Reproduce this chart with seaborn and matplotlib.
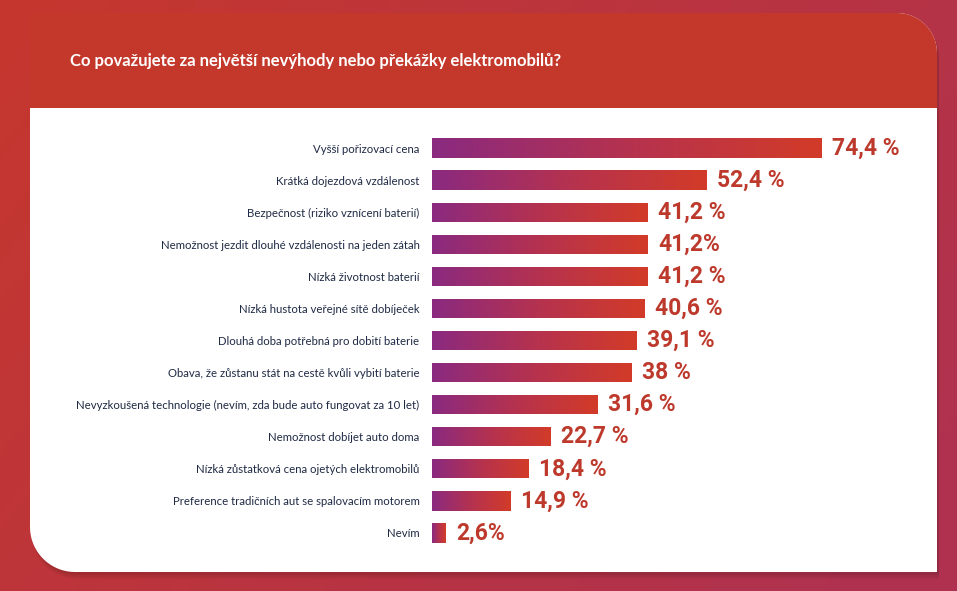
import numpy as np
import pandas as pd
import matplotlib
matplotlib.use("Agg")
import matplotlib.pyplot as plt
import seaborn as sns
from matplotlib.path import Path
from matplotlib.patches import PathPatch, Rectangle
from matplotlib.colors import LinearSegmentedColormap

# --- data ---
title = "Co považujete za největší nevýhody nebo překážky elektromobilů?"
categories = [
    "Vyšší pořizovací cena",
    "Krátká dojezdová vzdálenost",
    "Bezpečnost (riziko vznícení baterií)",
    "Nemožnost jezdit dlouhé vzdálenosti na jeden zátah",
    "Nízká životnost baterií",
    "Nízká hustota veřejné sítě dobíječek",
    "Dlouhá doba potřebná pro dobití baterie",
    "Obava, že zůstanu stát na cestě kvůli vybití baterie",
    "Nevyzkoušená technologie (nevím, zda bude auto fungovat za 10 let)",
    "Nemožnost dobíjet auto doma",
    "Nízká zůstatková cena ojetých elektromobilů",
    "Preference tradičních aut se spalovacím motorem",
    "Nevím",
]
values = [74.4, 52.4, 41.2, 41.2, 41.2, 40.6, 39.1, 38, 31.6, 22.7, 18.4, 14.9, 2.6]
value_labels = ["74,4 %", "52,4 %", "41,2 %", "41,2%", "41,2 %", "40,6 %", "39,1 %",
                "38 %", "31,6 %", "22,7 %", "18,4 %", "14,9 %", "2,6%"]

df = pd.DataFrame({"kategorie": categories, "procento": values})

W, H = 957, 591
FONT = ["Lato", "DejaVu Sans"]
NUM_FONT = ["Roboto", "DejaVu Sans"]
NAVY = "#1f2a44"
RED_TXT = "#bd392c"
HEADER = "#c4382b"

sns.set_theme(style="white")
plt.rcParams["font.family"] = FONT

fig = plt.figure(figsize=(W / 100, H / 100), dpi=100)

# --- pozadí + karta (v pixelech) ---
bg = fig.add_axes([0, 0, 1, 1], zorder=-10)
bg.set_xlim(0, W)
bg.set_ylim(H, 0)
bg.axis("off")

xx, yy = np.meshgrid(np.linspace(0, 1, 200), np.linspace(0, 1, 120))
t = np.clip(0.75 * xx + 0.35 * yy, 0, 1)[..., None]
c1 = np.array([0.776, 0.216, 0.180])
c2 = np.array([0.690, 0.196, 0.310])
bg.imshow(c1 * (1 - t) + c2 * t, extent=[0, W, H, 0], aspect="auto", zorder=0)


def card_path(x0, y0, x1, y1, r_tr, r_bl):
    pts = [(x0, y0)]
    a = np.linspace(-np.pi / 2, 0, 20)
    pts += list(zip(x1 - r_tr + r_tr * np.cos(a), y0 + r_tr + r_tr * np.sin(a)))
    pts.append((x1, y1))
    a = np.linspace(np.pi / 2, np.pi, 20)
    pts += list(zip(x0 + r_bl + r_bl * np.cos(a), y1 - r_bl + r_bl * np.sin(a)))
    pts.append((x0, y0))
    return Path(pts, closed=True)


# stín
for i, al in enumerate([0.06, 0.05, 0.04]):
    sh = PathPatch(card_path(30 + 2, 13 + 3 + i * 2, 937 + 2, 572 + 3 + i * 2, 40, 45),
                   facecolor="black", edgecolor="none", alpha=al, zorder=1)
    bg.add_patch(sh)

card = PathPatch(card_path(30, 13, 937, 572, 40, 45), facecolor="white",
                 edgecolor="none", zorder=2)
bg.add_patch(card)
header = Rectangle((30, 13), 907, 95, facecolor=HEADER, edgecolor="none", zorder=3)
bg.add_patch(header)
header.set_clip_path(card)

bg.text(70, 61, title, color="white", fontsize=12, fontweight="bold",
        ha="left", va="center", family=FONT, zorder=4)

# --- graf ---
ax = fig.add_axes([432 / W, 42 / H, 524 / W, 417 / H])
ax.patch.set_alpha(0)
sns.barplot(data=df, x="procento", y="kategorie", orient="h", width=0.6,
            color="#a8305a", ax=ax)

cmap = LinearSegmentedColormap.from_list("bar", ["#8a2a80", "#b5324f", "#d23b28"])
grad = np.linspace(0, 1, 256).reshape(1, -1)
for patch in ax.patches:
    x0, y0 = patch.get_x(), patch.get_y()
    w, h = patch.get_width(), patch.get_height()
    im = ax.imshow(grad, extent=[x0, x0 + w, y0 + h, y0], aspect="auto",
                   cmap=cmap, zorder=3)
    im.set_clip_path(patch)

for i, (v, lab) in enumerate(zip(values, value_labels)):
    ax.text(v + 2.0, i, lab, color=RED_TXT, fontsize=16.5, fontweight="bold",
            ha="left", va="center", family=NUM_FONT)

ax.set_xlim(0, 100)
ax.set_ylim(len(values) - 0.5, -0.5)
ax.set_xlabel("")
ax.set_ylabel("")
ax.set_xticks([])
ax.tick_params(axis="y", length=0, pad=9, labelsize=8.2, labelcolor=NAVY)
for lbl in ax.get_yticklabels():
    lbl.set_family(FONT)
sns.despine(ax=ax, left=True, bottom=True)

plt.savefig("out.png", dpi=100)
